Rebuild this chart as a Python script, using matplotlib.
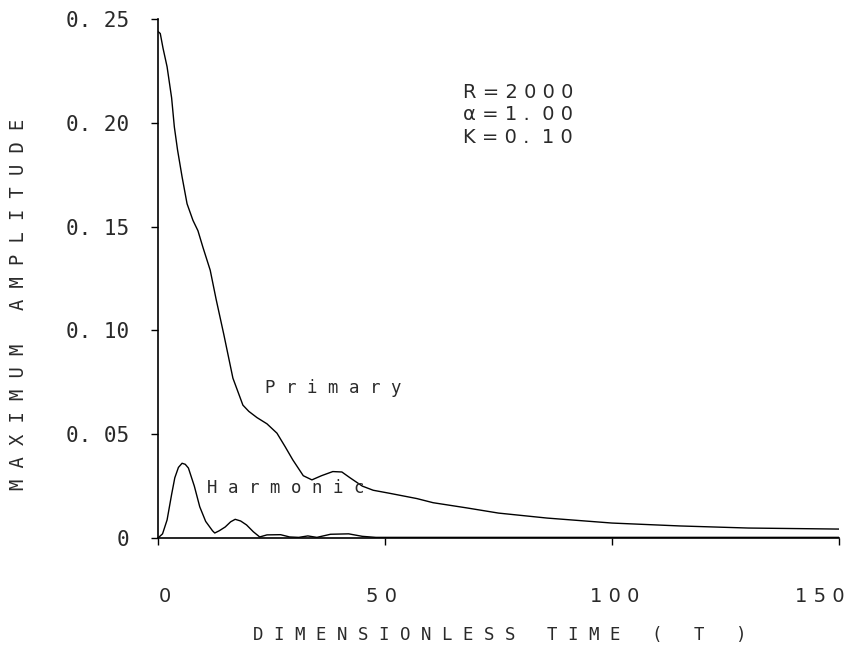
import matplotlib
matplotlib.use("Agg")
import matplotlib.pyplot as plt
import matplotlib.transforms as mtransforms

# values
t_primary = [0, 0.5, 1.1, 2.0, 3.0, 3.6, 4.3, 5.3, 6.4, 7.7, 8.8, 9.9, 11.5, 12.8,
             14.5, 16.5, 18.7, 20.0, 21.8, 24.0, 26.2, 28.0, 29.7, 32.0, 33.9, 36.0,
             38.5, 40.5, 42.3, 45.0, 47.4, 51.1, 57.0, 60.6, 68.0, 75.0, 85.7, 100.0,
             115.0, 130.0, 150.0]
primary = [0.244, 0.243, 0.236, 0.227, 0.212, 0.198, 0.187, 0.174, 0.161, 0.153, 0.148,
           0.140, 0.129, 0.115, 0.098, 0.077, 0.064, 0.061, 0.058, 0.055, 0.0505, 0.044,
           0.0376, 0.030, 0.028, 0.030, 0.032, 0.0318, 0.029, 0.025, 0.023, 0.0215,
           0.019, 0.017, 0.0145, 0.012, 0.0096, 0.0072, 0.0058, 0.0048, 0.0043]

t_harmonic = [0, 1, 2, 3, 3.7, 4.5, 5.3, 6.0, 6.7, 8.0, 9.2, 10.5, 12.0, 12.5, 13.5,
              14.8, 16.0, 17.0, 18.2, 19.5, 21.0, 22.4, 24.0, 27.0, 29.0, 31.0, 33.0,
              35.0, 38.0, 42.0, 45.0, 48.0, 150.0]
harmonic = [0.0, 0.002, 0.0087, 0.021, 0.029, 0.034, 0.036, 0.0355, 0.0337, 0.025, 0.015,
            0.008, 0.0035, 0.0024, 0.0035, 0.0053, 0.0078, 0.0090, 0.0082, 0.0063, 0.003,
            0.0005, 0.0015, 0.0016, 0.0005, 0.0003, 0.0010, 0.0003, 0.0018, 0.0020,
            0.0008, 0.0003, 0.0003]

x_ticks = [0, 50, 100, 150]
x_tick_labels = ["0", "5 0", "1 0 0", "1 5 0"]
y_ticks = [0, 0.05, 0.10, 0.15, 0.20, 0.25]
y_tick_labels = ["0", "0. 05", "0. 10", "0. 15", "0. 20", "0. 25"]

txt = "#2a2a2a"

fig = plt.figure(figsize=(8.49, 6.47), dpi=100)
ax = fig.add_axes([158/849, 1 - 538/647, 681/849, 519/647])

ax.plot(t_primary, primary, color="black", lw=1.0)
ax.plot(t_harmonic, harmonic, color="black", lw=1.0)

ax.set_xlim(0, 150)
ax.set_ylim(0, 0.25)
ax.spines["top"].set_visible(False)
ax.spines["right"].set_visible(False)
ax.spines["left"].set_linewidth(1.2)
ax.spines["bottom"].set_linewidth(1.2)

ax.set_xticks(x_ticks)
ax.set_xticklabels(x_tick_labels, fontsize=14, color=txt)
ax.set_yticks(y_ticks)
ax.set_yticklabels(y_tick_labels, fontsize=15, family="DejaVu Sans Mono", color=txt)
ax.tick_params(axis="x", direction="out", length=5, width=1, pad=30)
ax.tick_params(axis="y", direction="out", length=5, width=1, pad=16)

# nudge x tick labels to where the plotter put them (pixels)
shifts = [7, -4, 3, -19]
for lab, dx in zip(ax.get_xticklabels(), shifts):
    lab.set_transform(lab.get_transform() + mtransforms.ScaledTranslation(dx/100, 0, fig.dpi_scale_trans))

# parameter block
fig.text(463/849, 1 - 92/647, "R = 2 0 0 0", fontsize=14, va="center", ha="left", color=txt)
fig.text(463/849, 1 - 114/647, "α = 1 .  0 0", fontsize=14, va="center", ha="left", color=txt)
fig.text(463/849, 1 - 137/647, "K = 0 .  1 0", fontsize=14, va="center", ha="left", color=txt)

fig.text(265/849, 1 - 388/647, "P r i m a r y", fontsize=12.5,
         family="DejaVu Sans Mono", va="center", ha="left", color=txt)
fig.text(207/849, 1 - 488/647, "H a r m o n i c", fontsize=12.5,
         family="DejaVu Sans Mono", va="center", ha="left", color=txt)

fig.text(19/849, 1 - 304/647, "M A X I M U M   A M P L I T U D E", rotation=90,
         fontsize=13.5, family="DejaVu Sans Mono", va="center", ha="center", color=txt)
fig.text(500/849, 1 - 635/647, "D I M E N S I O N L E S S   T I M E   (   T   )",
         fontsize=12.5, family="DejaVu Sans Mono", va="center", ha="center", color=txt)

fig.savefig("out.png", dpi=100)
